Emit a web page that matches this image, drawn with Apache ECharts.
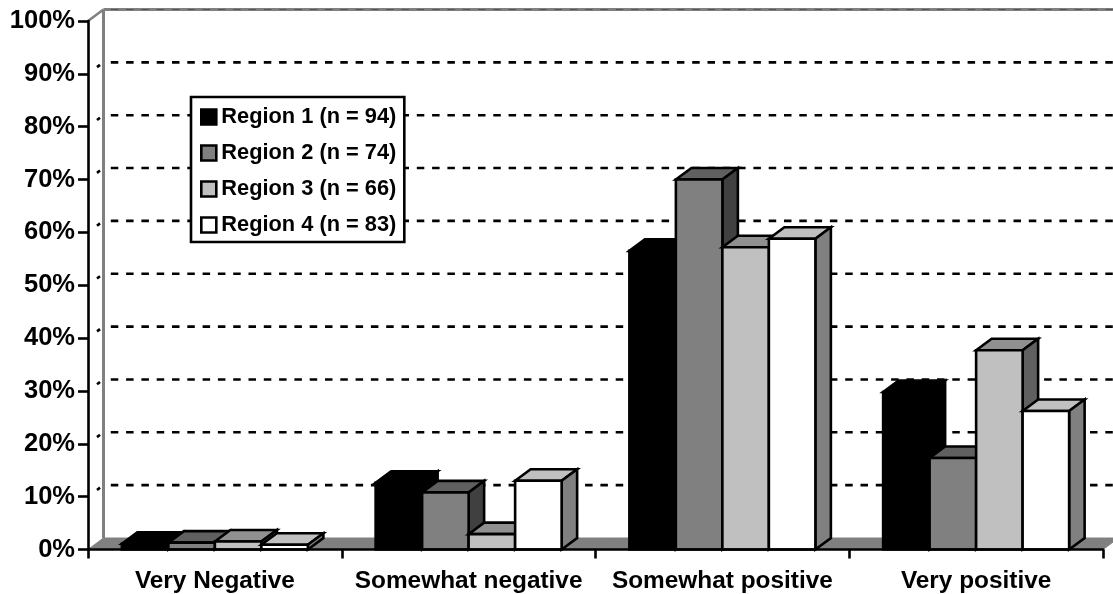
<!DOCTYPE html>
<html><head><meta charset="utf-8">
<style>html,body{margin:0;padding:0;background:#fff}#c{width:1113px;height:594px}</style>
<script src="https://cdn.jsdelivr.net/npm/echarts@6/dist/echarts.min.js"></script>
</head><body><div id="c"></div>
<script>
const categories = ['Very Negative','Somewhat negative','Somewhat positive','Very positive'];
const region1 = [1.1, 12.6, 56.5, 29.8];
const region2 = [1.3, 10.8, 70.0, 17.3];
const region3 = [1.5, 2.9, 57.2, 37.7];
const region4 = [0.9, 13.0, 58.8, 26.2];
const seriesNames = ['Region 1 (n = 94)','Region 2 (n = 74)','Region 3 (n = 66)','Region 4 (n = 83)'];
const yTicks = [0,10,20,30,40,50,60,70,80,90,100];

const FRONT = ['#000000','#808080','#C0C0C0','#FFFFFF'];
const TOP   = ['#000000','#606060','#909090','#C0C0C0'];
const SIDE  = ['#000000','#404040','#606060','#808080'];
const DX = 15.5, DY = -11.5, GROUP = 0.733;
const FONT = '"Liberation Sans", Arial, sans-serif';

function wall(params, api){
  const v = api.value(0), cs = params.coordSys;
  const y = api.coord([0, v])[1], l = cs.x, r = cs.x + cs.width;
  const kids = [];
  if (v === 0) {
    kids.push({type:'polygon', shape:{points:[[l,y],[l+DX,y+DY],[r+DX,y+DY],[r,y]]}, style:{fill:'#808080',stroke:'#808080',lineWidth:1}});
    kids.push({type:'line', shape:{x1:l+DX,y1:cs.y+DY,x2:l+DX,y2:y+DY}, style:{stroke:'#808080',lineWidth:3}});
  } else if (v === 100) {
    kids.push({type:'line', shape:{x1:l+DX,y1:y+DY,x2:r+DX,y2:y+DY}, style:{stroke:'#808080',lineWidth:3}});
    kids.push({type:'line', shape:{x1:l,y1:y,x2:l+DX,y2:y+DY}, style:{stroke:'#808080',lineWidth:2.5}});
    kids.push({type:'line', shape:{x1:l+DX,y1:y+DY,x2:r+DX,y2:y+DY}, style:{stroke:'#555',lineWidth:1,lineDash:[7.5,7.8],lineDashOffset:8}});
  } else {
    kids.push({type:'line', shape:{x1:l+DX,y1:y+DY,x2:r+DX,y2:y+DY}, style:{stroke:'#000',lineWidth:2.6,lineDash:[7.5,7.8],lineDashOffset:8}});
    kids.push({type:'line', shape:{x1:l+DX-6.5,y1:y+DY+4.8,x2:l+DX-3.5,y2:y+DY+2.5}, style:{stroke:'#000',lineWidth:2.6}});
  }
  return {type:'group', children:kids};
}

function barRenderer(idx){
  return function(params, api){
    const cat = api.value(0), val = api.value(1);
    const p = api.coord([cat, val]), b = api.coord([cat, 0]);
    const catW = api.size([1,0])[0], w = catW * GROUP / 4;
    const x = p[0] - catW * GROUP / 2 + idx * w, yt = p[1], yb = b[1];
    const st = {stroke:'#000', lineWidth:2.6, lineJoin:'miter'};
    return {type:'group', children:[
      {type:'polygon', shape:{points:[[x,yt],[x+DX,yt+DY],[x+w+DX,yt+DY],[x+w,yt]]}, style:Object.assign({fill:TOP[idx]},st)},
      {type:'polygon', shape:{points:[[x+w,yt],[x+w+DX,yt+DY],[x+w+DX,yb+DY],[x+w,yb]]}, style:Object.assign({fill:SIDE[idx]},st)},
      {type:'rect', shape:{x:x,y:yt,width:w,height:yb-yt}, style:Object.assign({fill:FRONT[idx]},st)}
    ]};
  };
}

const allValues = [region1, region2, region3, region4];
const barSeries = allValues.map((vals, i) => ({
  type:'custom', name:seriesNames[i], renderItem:barRenderer(i),
  data: vals.map((v, c) => [c, v]), encode:{x:0,y:1},
  itemStyle:{color:FRONT[i]}, silent:true, z:5
}));

const chart = echarts.init(document.getElementById('c'), null, {renderer:'canvas'});
chart.setOption({
  animation:false,
  backgroundColor:'#fff',
  grid:{left:88, right:10, top:21, bottom:44.5, containLabel:false},
  xAxis:{type:'category', data:categories, boundaryGap:true, z:8,
    axisLine:{lineStyle:{color:'#000',width:2.6}},
    axisTick:{show:true,length:9,alignWithLabel:false,lineStyle:{color:'#000',width:2.6}},
    axisLabel:{color:'#000',fontFamily:FONT,fontWeight:'bold',fontSize:24.4,margin:20,interval:0},
    splitLine:{show:false}},
  yAxis:{type:'value', min:0, max:100, interval:10, z:8,
    axisLine:{show:true,lineStyle:{color:'#000',width:2.6}},
    axisTick:{show:true,length:10,lineStyle:{color:'#000',width:2.6}},
    axisLabel:{color:'#000',fontFamily:FONT,fontWeight:'bold',fontSize:25.5,margin:13,formatter:'{value}%'},
    splitLine:{show:false}},
  legend:{orient:'vertical', left:191, top:97, padding:[9,8,6,9], itemGap:14, itemWidth:15, itemHeight:15,
    icon:'rect', backgroundColor:'#fff', borderColor:'#000', borderWidth:2.6, borderRadius:0,
    itemStyle:{borderColor:'#000',borderWidth:2.6}, selectedMode:false, z:10,
    textStyle:{color:'#000',fontFamily:FONT,fontWeight:'bold',fontSize:21.8},
    data:seriesNames},
  series:[{type:'custom', name:'walls', renderItem:wall, data:yTicks.map(v=>[v]), encode:{}, silent:true, z:1}].concat(barSeries)
});
</script></body></html>
